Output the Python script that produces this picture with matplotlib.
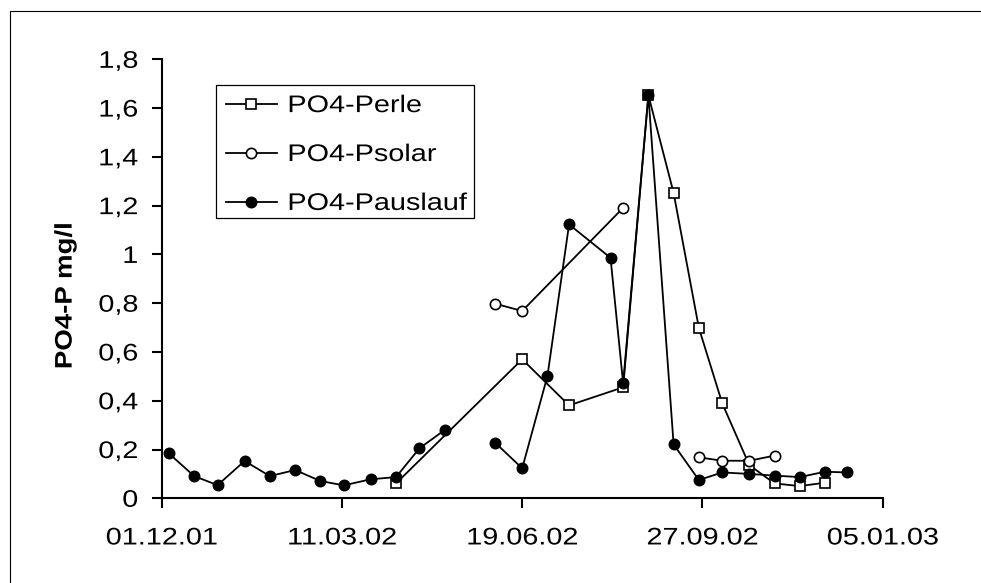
import numpy as np
import pandas as pd
import matplotlib
matplotlib.use("Agg")
import matplotlib.pyplot as plt
from matplotlib.patheffects import AbstractPathEffect
from matplotlib.transforms import Affine2D
from matplotlib.patches import Rectangle

# ---------------- data ----------------
perle_dates = ['2002-04-10', '2002-06-19', '2002-07-15', '2002-08-14', '2002-08-28',
               '2002-09-11', '2002-09-25', '2002-10-08', '2002-10-23', '2002-11-06',
               '2002-11-20', '2002-12-04']
perle_vals = [0.061, 0.57, 0.381, 0.455, 1.653, 1.252, 0.699, 0.389, 0.136, 0.061, 0.05, 0.064]

psolar_dates = ['2002-06-04', '2002-06-19', '2002-08-14', '2002-08-28', '2002-09-25',
                '2002-10-08', '2002-10-23', '2002-11-06']
psolar_vals = [0.798, 0.768, 1.191, np.nan, 0.168, 0.154, 0.154, 0.175]

paus_dates = ['2001-12-05', '2001-12-19', '2002-01-01', '2002-01-16', '2002-01-30',
              '2002-02-13', '2002-02-27', '2002-03-12', '2002-03-27', '2002-04-10',
              '2002-04-23', '2002-05-07', '2002-05-21', '2002-06-04', '2002-06-19',
              '2002-07-03', '2002-07-15', '2002-08-07', '2002-08-14', '2002-08-28',
              '2002-09-11', '2002-09-25', '2002-10-08', '2002-10-23', '2002-11-06',
              '2002-11-20', '2002-12-04', '2002-12-16']
paus_vals = [0.184, 0.091, 0.054, 0.153, 0.091, 0.116, 0.071, 0.053, 0.078, 0.087,
             0.205, 0.28, np.nan, 0.228, 0.123, 0.501, 1.123, 0.986, 0.471, 1.653,
             0.221, 0.075, 0.106, 0.100, 0.093, 0.087, 0.109, 0.106]

series_labels = ['PO4-Perle', 'PO4-Psolar', 'PO4-Pauslauf']
x_tick_dates = ['2001-12-01', '2002-03-11', '2002-06-19', '2002-09-27', '2003-01-05']
x_tick_labels = ['01.12.01', '11.03.02', '19.06.02', '27.09.02', '05.01.03']
y_ticks = [0, 0.2, 0.4, 0.6, 0.8, 1.0, 1.2, 1.4, 1.6, 1.8]
y_tick_labels = ['0', '0,2', '0,4', '0,6', '0,8', '1', '1,2', '1,4', '1,6', '1,8']
y_label = 'PO4-P mg/l'


# ------------- horizontal text stretch (text stays real text) -------------
class Stretch(AbstractPathEffect):
    def __init__(self, sx, anchor='left'):
        super().__init__()
        self.sx = sx
        self.anchor = anchor

    def draw_path(self, renderer, gc, tpath, affine, rgbFace=None):
        v = tpath.vertices
        if len(v):
            xmin, xmax = np.nanmin(v[:, 0]), np.nanmax(v[:, 0])
        else:
            xmin = xmax = 0.0
        if self.anchor == 'center':
            c = 0.5 * (xmin + xmax)
        elif self.anchor == 'right':
            c = xmax
        else:
            c = 0.0
        st = Affine2D().translate(-c, 0).scale(self.sx, 1).translate(c, 0)
        renderer.draw_path(gc, tpath, st + affine, rgbFace)


FONT = 'Liberation Sans'
FS = 17.3
SX = 1.2

W, H = 981, 583
fig = plt.figure(figsize=(W / 100, H / 100), dpi=100)
ax = fig.add_axes([161.7 / W, (H - 498.3) / H, 721 / W, 439 / H])

lw = 1.3
ms = 7.4
kw = dict(color='black', linewidth=lw, markersize=ms, markeredgewidth=1.2,
          markeredgecolor='black', clip_on=False)
ax.plot(pd.to_datetime(perle_dates), perle_vals, marker='s', markerfacecolor='white',
        label=series_labels[0], **kw)
ax.plot(pd.to_datetime(psolar_dates), psolar_vals, marker='o', markerfacecolor='white',
        label=series_labels[1], **kw)
ax.plot(pd.to_datetime(paus_dates), paus_vals, marker='o', markerfacecolor='black',
        label=series_labels[2], **kw)

xt = pd.to_datetime(x_tick_dates)
ax.set_xlim(xt[0], xt[-1])
ax.set_ylim(0, 1.8)
ax.set_xticks(xt)
ax.set_xticklabels(x_tick_labels)
ax.set_yticks(y_ticks)
ax.set_yticklabels(y_tick_labels)

for s in ['top', 'right']:
    ax.spines[s].set_visible(False)
for s in ['left', 'bottom']:
    ax.spines[s].set_linewidth(1.5)
    ax.spines[s].set_color('black')

ax.tick_params(axis='y', direction='out', length=7, width=1.5, pad=10,
               labelsize=FS, labelfontfamily=FONT)
ax.tick_params(axis='x', direction='out', length=7, width=1.5, pad=14,
               labelsize=FS, labelfontfamily=FONT)

ax.set_ylabel(y_label, fontsize=FS, fontweight='bold', fontfamily=FONT)
ax.yaxis.set_label_coords(-0.118, 0.461)
ax.yaxis.label.set_path_effects([Stretch(1.15, 'center')])

# legend
leg = ax.legend(loc='upper left', bbox_to_anchor=(216 / W, 1 - 85 / H),
                bbox_transform=fig.transFigure, frameon=False,
                prop={'family': FONT, 'size': FS}, handlelength=2.1,
                handletextpad=0.45, labelspacing=1.12, borderpad=0.42,
                borderaxespad=0)
for t in leg.get_texts():
    t.set_path_effects([Stretch(SX, 'left')])

# legend frame
fig.patches.append(Rectangle((216 / W, 1 - 218 / H), (474 - 216) / W, (218 - 85) / H,
                             transform=fig.transFigure, fill=False,
                             edgecolor='black', linewidth=0.9))
# outer chart frame
fig.patches.append(Rectangle((9.5 / W, -0.05), 1.2, (H - 10.5) / H + 0.05,
                             transform=fig.transFigure, fill=False,
                             edgecolor='black', linewidth=0.8))

fig.canvas.draw()
for tk in ax.xaxis.get_major_ticks():
    tk.label1.set_path_effects([Stretch(SX, 'center')])
for tk in ax.yaxis.get_major_ticks():
    tk.label1.set_path_effects([Stretch(SX, 'right')])

fig.savefig('out.png', dpi=100)
